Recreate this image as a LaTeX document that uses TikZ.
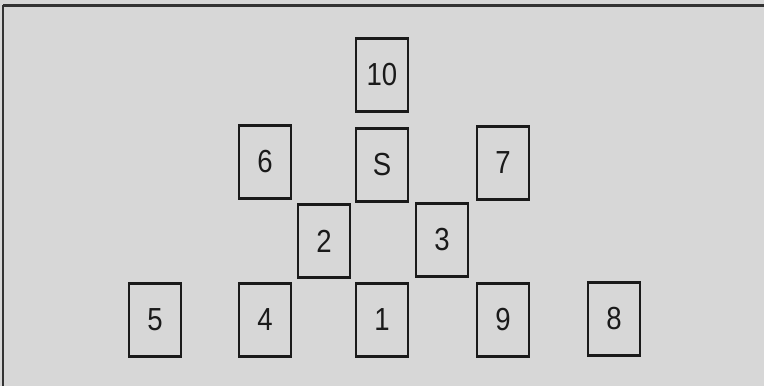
\documentclass[tikz,border=0pt]{standalone}
\usepackage{fontspec}
\setmainfont{Liberation Sans}
\definecolor{paper}{HTML}{D7D7D7}
\definecolor{ink}{HTML}{1A1A1A}
\definecolor{rule}{HTML}{333333}
\newcommand{\tallnum}[1]{\scalebox{0.95}[1.1]{#1}}
\begin{document}
\begin{tikzpicture}[x=1pt,y=-1pt,
  card/.style={draw=ink, line width=2.6pt, minimum width=52pt, minimum height=73pt,
    inner sep=0pt, font=\fontsize{29}{29}\selectfont, text=ink}]
\fill[paper] (0,0) rectangle (764,386);
\useasboundingbox (0,0) rectangle (764,386);
\coordinate (tl) at (3,5);
\coordinate (tr) at (764,5);
\coordinate (bl) at (3,386);
\draw[rule, line width=3pt] (tl) -- (tr);
\draw[rule, line width=2.5pt] (tl) -- (bl);
\node[card] (c10) at (382,75) {\tallnum{10}};
\node[card] (c6) at (265,162) {\tallnum{6}};
\node[card] (cS) at (382,165) {\tallnum{S}};
\node[card] (c7) at (503,163) {\tallnum{7}};
\node[card] (c2) at (324,241) {\tallnum{2}};
\node[card] (c3) at (442,240) {\tallnum{3}};
\node[card] (c5) at (155,320) {\tallnum{5}};
\node[card] (c4) at (265,320) {\tallnum{4}};
\node[card] (c1) at (382,320) {\tallnum{1}};
\node[card] (c9) at (503,320) {\tallnum{9}};
\node[card] (c8) at (614,319) {\tallnum{8}};
\end{tikzpicture}
\end{document}
